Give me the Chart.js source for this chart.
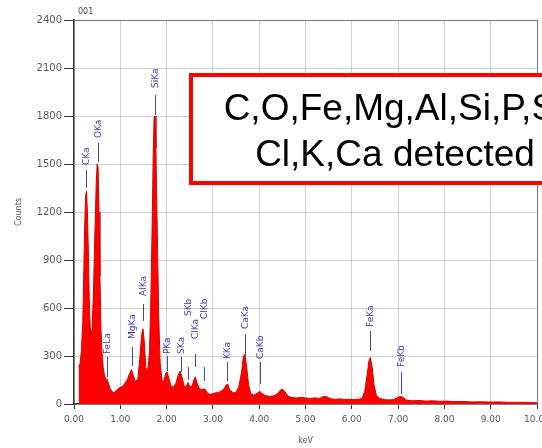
<!DOCTYPE html>
<html>
<head>
<meta charset="utf-8">
<script src="https://cdn.jsdelivr.net/npm/chart.js@4"></script>
<style>
html,body{margin:0;padding:0;background:#fff;}
canvas{display:block;}
</style>
</head>
<body>
<canvas id="c" width="542" height="448"></canvas>
<script>
// Spectrum (keV, counts)
const energies = [0.10,0.13,0.16,0.19,0.21,0.23,0.25,0.27,0.29,0.31,0.33,0.35,0.37,0.39,0.42,0.45,0.48,0.50,0.52,0.54,0.56,0.58,0.60,0.63,0.66,0.69,0.72,0.75,0.78,0.82,0.86,0.90,0.95,1.00,1.05,1.10,1.15,1.20,1.24,1.28,1.33,1.38,1.42,1.46,1.49,1.52,1.55,1.59,1.63,1.66,1.69,1.71,1.73,1.75,1.77,1.80,1.83,1.86,1.90,1.94,1.98,2.01,2.05,
  2.10,2.15,2.20,2.25,2.29,2.33,2.38,2.42,2.46,2.50,2.55,2.59,2.62,2.66,2.71,2.76,2.82,2.88,2.94,3.00,3.06,3.12,3.18,3.24,3.29,3.32,3.37,3.44,3.50,3.56,3.62,3.66,3.69,3.73,3.77,3.82,3.88,3.95,4.01,4.06,4.14,4.22,4.30,4.38,4.45,4.50,4.55,4.62,4.70,4.80,4.90,5.00,5.10,5.20,5.30,5.40,5.46,5.55,5.65,5.75,5.85,5.95,6.05,6.15,6.22,6.28,6.33,6.37,6.40,6.44,6.48,6.53,6.60,6.70,6.80,6.90,6.98,7.04,7.10,7.18,7.30,7.45,7.60,7.75,7.90,8.05,8.20,8.40,8.60,8.80,9.00,9.20,9.40,9.60,9.80,10.00];
const counts   = [230,250,330,520,800,1100,1300,1330,1200,950,650,480,420,470,700,1050,1380,1500,1480,1200,800,500,340,230,175,160,150,125,95,80,68,80,95,105,110,130,150,190,215,180,135,160,280,430,470,380,230,200,320,650,1150,1550,1790,1800,1600,1050,550,260,150,140,190,200,160,
  110,105,130,180,205,170,110,105,135,110,110,150,170,130,95,90,95,70,58,65,70,72,80,95,120,125,85,70,72,110,200,300,310,230,120,65,55,65,80,65,52,48,50,60,85,92,80,50,40,38,42,38,35,38,35,48,45,32,30,32,28,30,28,30,35,80,180,270,290,230,120,55,35,28,25,28,38,48,42,25,20,22,18,20,17,18,15,16,13,14,12,13,10,11,9,8];

// Peak labels: name, energy (keV), line bottom / line top / text bottom (counts)
const peakNames    = ['CKa','OKa','FeLa','MgKa','AlKa','SiKa','PKa','SKa','SKb','ClKa','ClKb','KKa','CaKa','CaKb','FeKa','FeKb'];
const peakEnergies = [0.265,0.52,0.705,1.254,1.486,1.74,2.013,2.307,2.464,2.621,2.815,3.312,3.69,4.012,6.398,7.057];
const lineBottoms  = [1350,1512,169,238,519,1806,206,200,150,231,144,144,300,125,331,62];
const lineTops     = [1462,1631,294,356,625,1931,300,294,231,312,231,262,437,262,456,200];
const textBottoms  = [1494,1662,312,406,675,1975,312,312,550,406,531,281,469,281,481,231];

const xTicks = [0,1,2,3,4,5,6,7,8,9,10];
const yTicks = [0,300,600,900,1200,1500,1800,2100,2400];
const noteLines = ['C,O,Fe,Mg,Al,Si,P,S,', 'Cl,K,Ca detected'];

const points = energies.map((e,i)=>({x:e, y:counts[i]}));

const overlay = {
  id:'overlay',
  afterDatasetsDraw(chart){
    const ctx = chart.ctx, xs = chart.scales.x, ys = chart.scales.y;
    ctx.save();
    for(let i=0;i<peakNames.length;i++){
      const x = Math.round(xs.getPixelForValue(peakEnergies[i]))+0.5;
      ctx.strokeStyle = '#4a4a90';
      ctx.lineWidth = 1;
      ctx.beginPath();
      ctx.moveTo(x, ys.getPixelForValue(lineBottoms[i]));
      ctx.lineTo(x, ys.getPixelForValue(lineTops[i]));
      ctx.stroke();
      ctx.save();
      ctx.translate(x, ys.getPixelForValue(textBottoms[i]));
      ctx.rotate(-Math.PI/2);
      ctx.fillStyle = '#3a3ab8';
      ctx.font = '9px "DejaVu Sans", sans-serif';
      ctx.textAlign = 'left';
      ctx.textBaseline = 'middle';
      ctx.fillText(peakNames[i], 0, 0);
      ctx.restore();
    }
    ctx.restore();
  },
  afterDraw(chart){
    const ctx = chart.ctx;
    ctx.save();
    ctx.fillStyle = '#444';
    ctx.font = '8px "DejaVu Sans", sans-serif';
    ctx.textAlign = 'left';
    ctx.textBaseline = 'middle';
    ctx.fillText('001', 78, 12);
    // note box
    ctx.fillStyle = '#fff';
    ctx.fillRect(191, 75, 420, 108);
    ctx.strokeStyle = '#ff0000';
    ctx.lineWidth = 4;
    ctx.strokeRect(191, 75, 420, 108);
    ctx.fillStyle = '#000';
    ctx.font = '37px "Liberation Sans", Arial, sans-serif';
    ctx.textAlign = 'center';
    ctx.textBaseline = 'alphabetic';
    ctx.fillText(noteLines[0], 395, 120);
    ctx.fillText(noteLines[1], 395, 166);
    ctx.restore();
  }
};

new Chart(document.getElementById('c'), {
  type:'line',
  data:{datasets:[{
    data:points,
    borderColor:'#d80000',
    backgroundColor:'#ff0000',
    borderWidth:1,
    pointRadius:0,
    tension:0,
    fill:'origin'
  }]},
  options:{
    responsive:false,
    animation:false,
    layout:{padding:{top:20,right:5,left:0,bottom:0}},
    plugins:{legend:{display:false},tooltip:{enabled:false}},
    scales:{
      x:{
        type:'linear', min:0, max:10,
        afterBuildTicks(s){ s.ticks = xTicks.map(v=>({value:v})); },
        afterFit(s){ s.height = 44; s.paddingLeft = 0; s.paddingRight = 0; },
        ticks:{
          autoSkip:false, maxRotation:0, padding:5,
          color:'#555', font:{family:'DejaVu Sans', size:9},
          callback:(v)=>Number(v).toFixed(2)
        },
        grid:{
          color:(c)=> (c.tick && c.tick.value===10) ? '#777' : '#cfcfcf',
          lineWidth:1, tickLength:5, tickColor:'#333', drawTicks:true
        },
        border:{display:true, color:'#333', width:1.5},
        title:{display:true, text:'keV', color:'#555', font:{family:'DejaVu Sans', size:8}, padding:{top:0,bottom:2}}
      },
      y:{
        type:'linear', min:0, max:2400,
        afterBuildTicks(s){ s.ticks = yTicks.map(v=>({value:v})); },
        afterFit(s){ s.width = 74; s.paddingTop = 0; s.paddingBottom = 0; },
        ticks:{
          padding:2, color:'#555', font:{family:'DejaVu Sans', size:10},
          callback:(v)=>String(v)
        },
        grid:{
          color:(c)=> (c.tick && c.tick.value===2400) ? '#777' : '#cfcfcf',
          lineWidth:1, tickLength:10, tickColor:'#333', drawTicks:true
        },
        border:{display:true, color:'#333', width:1.5},
        title:{display:true, text:'Counts', color:'#555', font:{family:'DejaVu Sans', size:8}, padding:{top:14,bottom:0}}
      }
    }
  },
  plugins:[overlay]
});
</script>
</body>
</html>
